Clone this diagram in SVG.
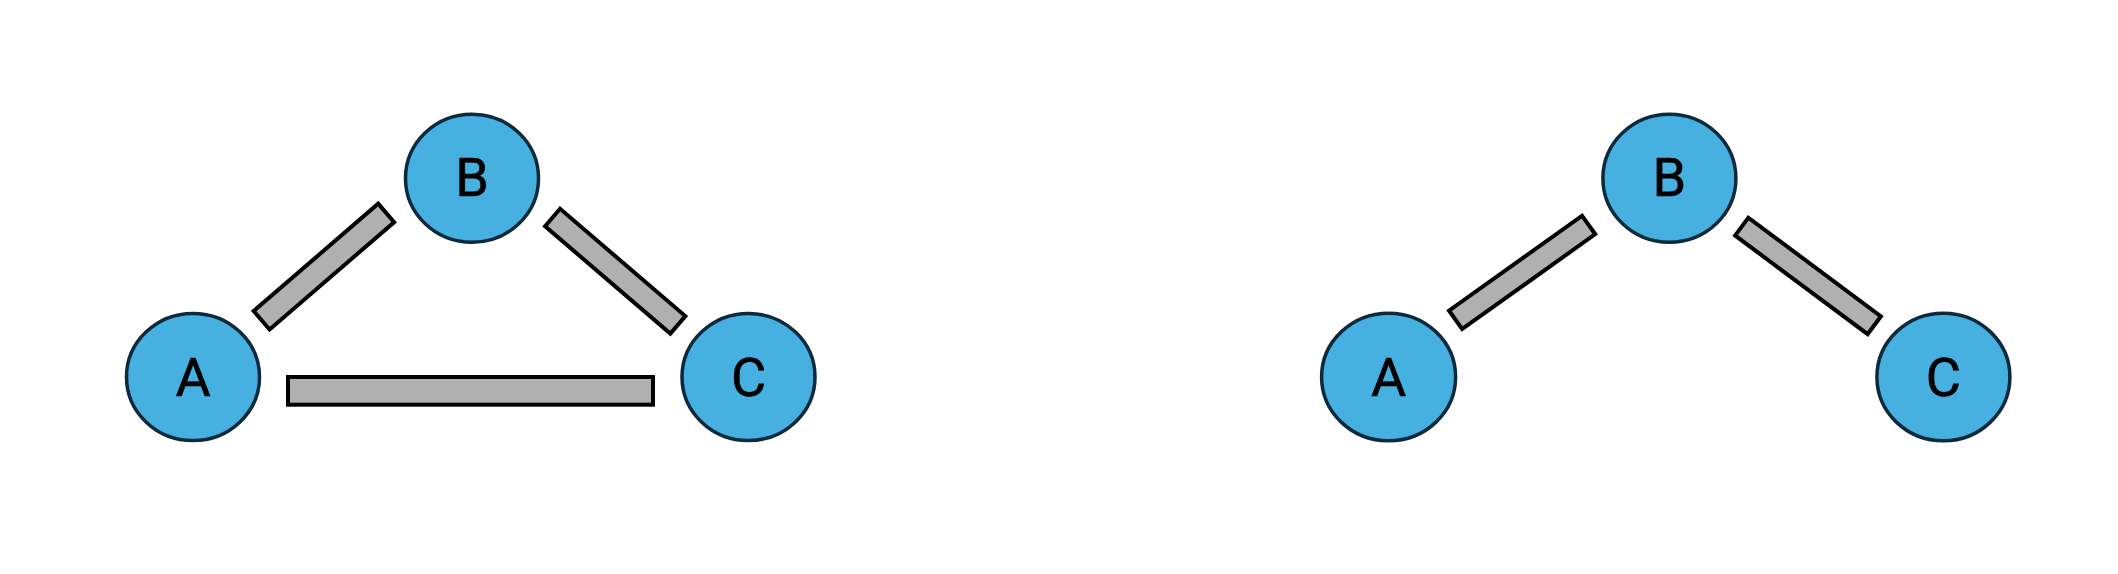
<svg xmlns="http://www.w3.org/2000/svg" width="2118" height="574" viewBox="0 0 2118 574">
<style>
.node ellipse{fill:#46b0e1;stroke:#0d2a3c;stroke-width:3.5}
.node text{font-family:Roboto,"Liberation Sans",Arial,sans-serif;font-size:54px;fill:#000;stroke:#000;stroke-width:0.6;text-anchor:middle}
.edge{fill:#b0b0b0;stroke:#000;stroke-width:4;stroke-linejoin:miter}
</style>
<rect width="2118" height="574" fill="#fff"/>
<g id="connectors">
<rect class="edge" x="-82.2" y="-12.2" width="164.4" height="24.4" transform="translate(323.9 266.6) rotate(-40.76)"/>
<rect class="edge" x="-82.5" y="-11.5" width="165" height="23" transform="translate(615.2 271.2) rotate(40.6)"/>
<rect class="edge" x="288" y="377" width="365" height="27.7"/>
<rect class="edge" x="-81.7" y="-11.3" width="163.4" height="22.6" transform="translate(1522.1 272.4) rotate(-35.5)"/>
<rect class="edge" x="-82.6" y="-11.1" width="165.2" height="22.2" transform="translate(1808 275.9) rotate(36.66)"/>
</g>
<g id="left-A" class="node"><ellipse cx="193" cy="377" rx="66.5" ry="63.5"/><text x="193" y="396">A</text></g>
<g id="left-B" class="node"><ellipse cx="472" cy="178.3" rx="66.5" ry="64"/><text x="472" y="196">B</text></g>
<g id="left-C" class="node"><ellipse cx="748.5" cy="377" rx="66.5" ry="63.5"/><text x="748.5" y="396">C</text></g>
<g id="right-A" class="node"><ellipse cx="1388.6" cy="377" rx="67" ry="63.8"/><text x="1388.6" y="396">A</text></g>
<g id="right-B" class="node"><ellipse cx="1669.4" cy="178.3" rx="66.5" ry="64"/><text x="1669.4" y="196">B</text></g>
<g id="right-C" class="node"><ellipse cx="1943.4" cy="377" rx="66.5" ry="63.8"/><text x="1943.4" y="396">C</text></g>
</svg>
